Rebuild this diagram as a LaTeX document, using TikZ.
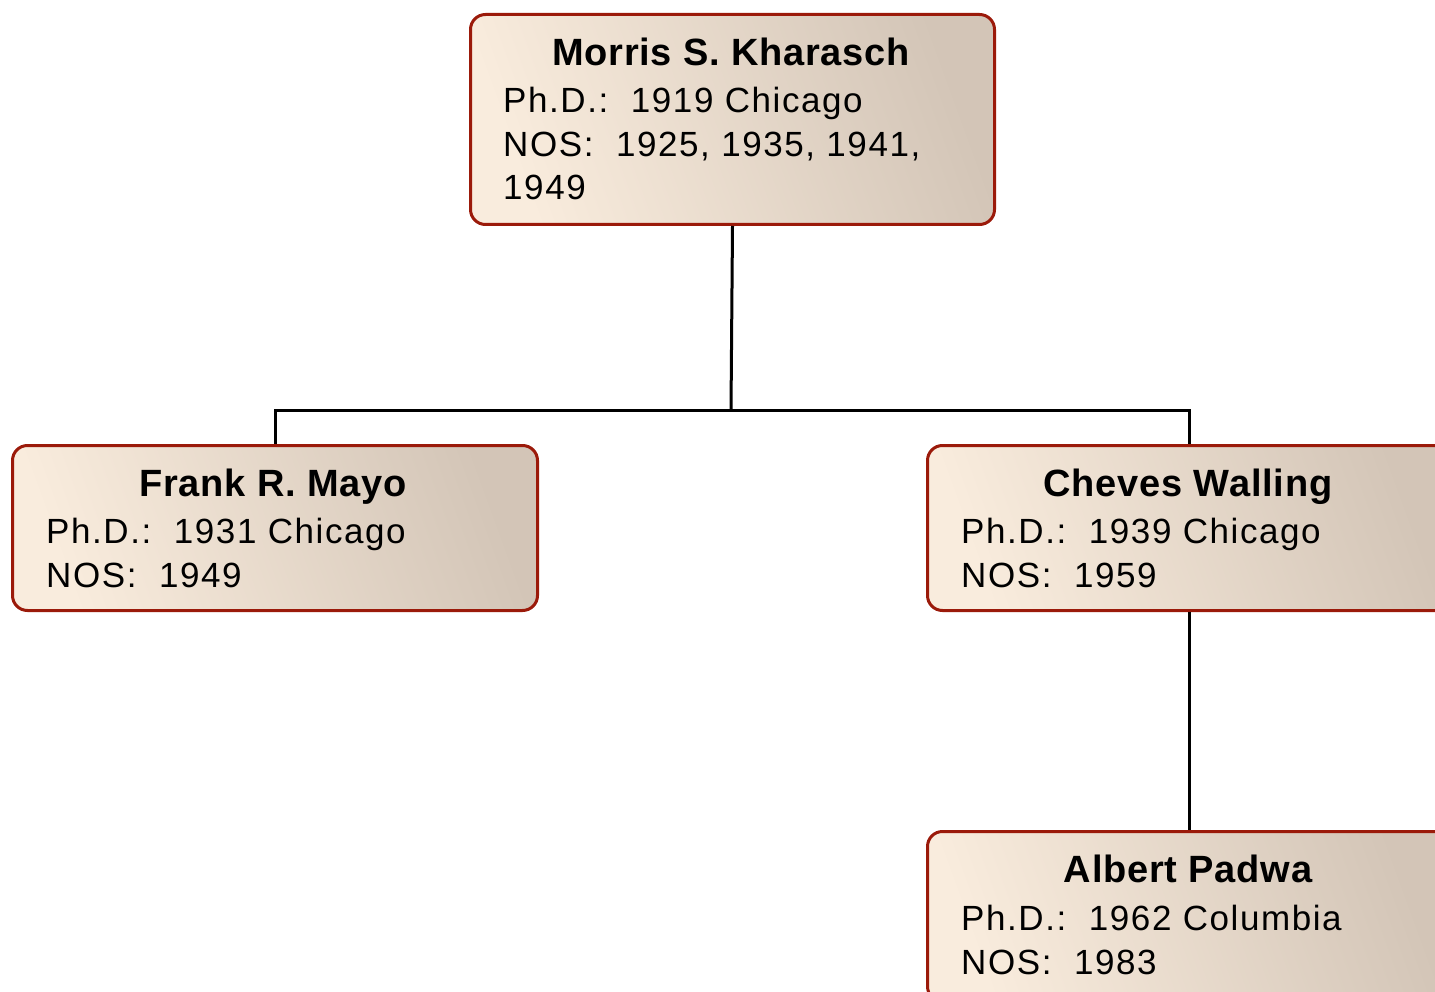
\documentclass[tikz,border=0pt]{standalone}
\usepackage{fontspec}
\setmainfont{Liberation Sans}
\definecolor{boxline}{HTML}{9B1A0A}
\definecolor{shadeA}{HTML}{F9ECDD}
\definecolor{shadeB}{HTML}{D3C5B7}
\tikzset{
  person/.style={draw=boxline, line width=3pt, rounded corners=15pt,
    left color=shadeA, right color=shadeB, shading angle=110,
    anchor=north west, inner sep=0pt},
  ttl/.style={anchor=base, inner sep=0pt, font=\fontsize{38}{44}\selectfont\bfseries\addfontfeatures{LetterSpace=2}},
  txt/.style={anchor=base west, inner sep=0pt, font=\fontsize{35}{44}\selectfont\addfontfeatures{LetterSpace=4.5}},
  link/.style={line width=3pt, black}
}
\begin{document}
\begin{tikzpicture}[x=1pt,y=-1pt]
\useasboundingbox (0,0) rectangle (1435,992);
\clip (0,0) rectangle (1435,992);
% boxes
\node[person, minimum width=524pt, minimum height=210pt] (k) at (469,13) {};
\node[person, minimum width=525pt, minimum height=165pt] (m) at (11,444) {};
\node[person, minimum width=524pt, minimum height=165pt] (w) at (926,444) {};
\node[person, minimum width=524pt, minimum height=170pt] (p) at (926,830) {};
% connectors
\coordinate (bar) at (731,410);
\draw[link] (k.south) -- (bar);
\draw[link] (bar) -| (m.north);
\draw[link] (bar) -| (w.north);
\draw[link] (w.south) -- (p.north);
% texts
\node[ttl] (kt) at (731,66) {Morris S. Kharasch};
\node[txt] (k1) at (503,113) {Ph.D.:\ \ 1919 Chicago};
\node[txt] (k2) at (503,157) {NOS:\ \ 1925, 1935, 1941,};
\node[txt] (k3) at (503,200) {1949};
\node[ttl] (mt) at (273,496) {Frank R. Mayo};
\node[txt] (m1) at (46,543) {Ph.D.:\ \ 1931 Chicago};
\node[txt] (m2) at (46,587) {NOS:\ \ 1949};
\node[ttl] (wt) at (1188,496) {Cheves Walling};
\node[txt] (w1) at (961,543) {Ph.D.:\ \ 1939 Chicago};
\node[txt] (w2) at (961,587) {NOS:\ \ 1959};
\node[ttl] (pt) at (1188,882) {Albert Padwa};
\node[txt] (p1) at (961,930) {Ph.D.:\ \ 1962 Columbia};
\node[txt] (p2) at (961,974) {NOS:\ \ 1983};
\end{tikzpicture}
\end{document}
